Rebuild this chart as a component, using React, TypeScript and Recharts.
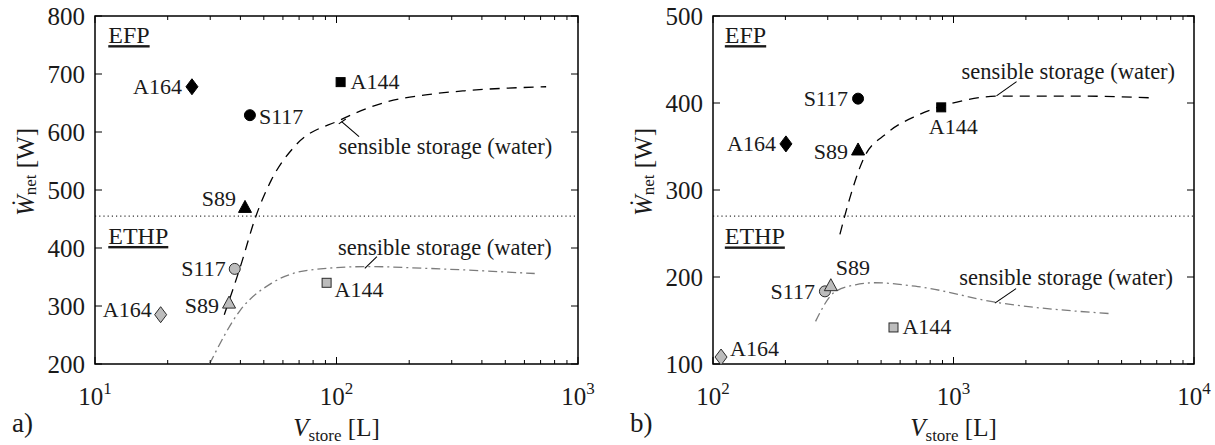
import React from "react";
import {
  ComposedChart,
  Scatter,
  Line,
  XAxis,
  YAxis,
  ReferenceLine,
  ReferenceArea,
  ReferenceDot,
  Label,
} from "recharts";

const FONT = "'Liberation Serif', 'Times New Roman', serif";
const INK = "#1a1a1a";

// systems, same order in every value array below
const systems = ["A164", "A144", "S117", "S89"];
const markerOf: Record<string, string> = {
  A164: "diamond",
  A144: "square",
  S117: "circle",
  S89: "triangle",
};

// a) storage volume [L] and net power [W]
const volA_EFP = [25.2, 104, 43.8, 41.8];
const powA_EFP = [678, 686, 629, 470];
const volA_ETHP = [18.7, 91, 37.9, 35.9];
const powA_ETHP = [285, 340, 364, 305];

// a) sensible storage (water) curves
const waterA_EFP_vol = [34.3, 40, 46.3, 53.7, 67, 104, 162, 234, 339, 738];
const waterA_EFP_pow = [285, 368, 454, 517, 575, 621, 652, 664, 671, 678];
const waterA_ETHP_vol = [29.8, 40, 53.7, 77.6, 135, 234, 662];
const waterA_ETHP_pow = [200, 293, 339, 362, 368, 365, 356];

// b) storage volume [L] and net power [W]
const volB_EFP = [201, 889, 401, 401];
const powB_EFP = [353, 395, 405, 346];
const volB_ETHP = [108, 563, 292, 309];
const powB_ETHP = [108, 142, 183.5, 190];

// b) sensible storage (water) curves
const waterB_EFP_vol = [337, 369, 421, 527, 711, 1033, 1556, 3165, 6560];
const waterB_EFP_pow = [249, 289, 335, 365, 386, 401, 408, 408, 406];
const waterB_ETHP_vol = [267, 318, 391, 471, 711, 1500, 4435];
const waterB_ETHP_pow = [149, 182, 191, 193.4, 189, 171, 158];

// EFP / ETHP separation
const splitA = 455;
const splitB = 270;

// axis ticks
const xTicksA = [10, 20, 30, 40, 50, 60, 70, 80, 90, 100, 200, 300, 400, 500, 600, 700, 800, 900, 1000];
const xTicksB = [100, 200, 300, 400, 500, 600, 700, 800, 900, 1000, 2000, 3000, 4000, 5000, 6000, 7000, 8000, 9000, 10000];
const yTicksA = [200, 300, 400, 500, 600, 700, 800];
const yTicksB = [100, 200, 300, 400, 500];

const noteText = "sensible storage (water)";

type Pt = { x: number; y: number };
const zip = (xs: number[], ys: number[]): Pt[] => xs.map((x, i) => ({ x, y: ys[i] }));
const pts = (vol: number[], pow: number[], group: string) =>
  systems.map((name, i) => ({ x: vol[i], y: pow[i], name, group }));

// label placement next to each marker: [dx, dy, anchor]
type Place = Record<string, [number, number, "start" | "middle" | "end"]>;
const placeA: Place = {
  "EFP A164": [-10, 7, "end"],
  "EFP A144": [10, 7, "start"],
  "EFP S117": [9, 9, "start"],
  "EFP S89": [-9, -1, "end"],
  "ETHP S117": [-9, 7, "end"],
  "ETHP S89": [-10, 10, "end"],
  "ETHP A164": [-9, 2, "end"],
  "ETHP A144": [8, 14, "start"],
};
const placeB: Place = {
  "EFP S117": [-10, 7, "end"],
  "EFP A164": [-10, 7, "end"],
  "EFP S89": [-10, 9, "end"],
  "EFP A144": [12, 27, "middle"],
  "ETHP S117": [-10, 8, "end"],
  "ETHP S89": [5, -11, "start"],
  "ETHP A144": [9, 7, "start"],
  "ETHP A164": [9, -1, "start"],
};

type Seg = [Pt, Pt];
type PanelCfg = {
  tag: string;
  width: number;
  yAxisW: number;
  right: number;
  xDomain: [number, number];
  yDomain: [number, number];
  xTicks: number[];
  yTicks: number[];
  split: number;
  efp: any[];
  ethp: any[];
  efpCurve: Pt[];
  ethpCurve: Pt[];
  place: Place;
  notes: Pt[];
  leaders: Seg[];
  heads: Pt[];
};

const panelA: PanelCfg = {
  tag: "a)",
  width: 610,
  yAxisW: 95,
  right: 32,
  xDomain: [10, 1000],
  yDomain: [200, 800],
  xTicks: xTicksA,
  yTicks: yTicksA,
  split: splitA,
  efp: pts(volA_EFP, powA_EFP, "EFP"),
  ethp: pts(volA_ETHP, powA_ETHP, "ETHP"),
  efpCurve: zip(waterA_EFP_vol, waterA_EFP_pow),
  ethpCurve: zip(waterA_ETHP_vol, waterA_ETHP_pow),
  place: placeA,
  notes: [
    { x: 102, y: 575 },
    { x: 101.5, y: 399.5 },
  ],
  leaders: [
    [{ x: 105, y: 618 }, { x: 124, y: 592 }],
    [{ x: 102.2, y: 614 }, { x: 109.3, y: 622.4 }],
    [{ x: 131, y: 365 }, { x: 147, y: 385 }],
  ],
  heads: [
    { x: 11.35, y: 767 },
    { x: 11.35, y: 420.7 },
  ],
};

const panelB: PanelCfg = {
  tag: "b)",
  width: 610,
  yAxisW: 108,
  right: 21,
  xDomain: [100, 10000],
  yDomain: [100, 500],
  xTicks: xTicksB,
  yTicks: yTicksB,
  split: splitB,
  efp: pts(volB_EFP, powB_EFP, "EFP"),
  ethp: pts(volB_ETHP, powB_ETHP, "ETHP"),
  efpCurve: zip(waterB_EFP_vol, waterB_EFP_pow),
  ethpCurve: zip(waterB_ETHP_vol, waterB_ETHP_pow),
  place: placeB,
  notes: [
    { x: 1079, y: 436 },
    { x: 1057, y: 199 },
  ],
  leaders: [
    [{ x: 1509, y: 408.2 }, { x: 1829, y: 424.6 }],
    [{ x: 1486, y: 170 }, { x: 1820, y: 186.6 }],
  ],
  heads: [
    { x: 112, y: 478 },
    { x: 112, y: 246.6 },
  ],
};

const H = 445;
const TOP = 16;
const XAXIS_H = 81;

function Marker(props: any) {
  const { cx, cy, payload, place } = props;
  if (cx == null || cy == null) return null;
  const kind = markerOf[payload.name];
  const efp = payload.group === "EFP";
  const fill = efp ? "#000" : "#bcbcbc";
  const stroke = efp ? "#000" : "#2a2a2a";
  let mark: React.ReactNode = null;
  if (kind === "diamond") {
    mark = (
      <polygon
        points={`${cx},${cy - 8} ${cx + 6},${cy} ${cx},${cy + 8} ${cx - 6},${cy}`}
        fill={fill}
        stroke={stroke}
      />
    );
  } else if (kind === "square") {
    mark = <rect x={cx - 4.5} y={cy - 4.5} width={9} height={9} fill={fill} stroke={stroke} />;
  } else if (kind === "circle") {
    mark = <circle cx={cx} cy={cy} r={5.5} fill={fill} stroke={stroke} />;
  } else {
    mark = (
      <polygon
        points={`${cx},${cy - 7} ${cx + 6.5},${cy + 5} ${cx - 6.5},${cy + 5}`}
        fill={fill}
        stroke={stroke}
      />
    );
  }
  const p = place[`${payload.group} ${payload.name}`] || [10, 7, "start"];
  return (
    <g>
      {mark}
      <text
        x={cx + p[0]}
        y={cy + p[1]}
        textAnchor={p[2]}
        fontFamily={FONT}
        fontSize={22}
        fill={INK}
      >
        {payload.name}
      </text>
    </g>
  );
}

const makeXTick = (plotH: number) => (props: any) => {
  const { x, y, payload } = props;
  const e = Math.log10(payload.value);
  const major = Math.abs(e - Math.round(e)) < 1e-6;
  const len = major ? 7 : 4;
  return (
    <g>
      <line x1={x} y1={y} x2={x} y2={y - len} stroke="#000" strokeWidth={1} />
      <line x1={x} y1={y - plotH} x2={x} y2={y - plotH + len} stroke="#000" strokeWidth={1} />
      {major && (
        <text x={x} y={y + 41} textAnchor="middle" fontFamily={FONT} fontSize={25} fill={INK}>
          10
          <tspan dy={-11} fontSize={17}>
            {Math.round(e)}
          </tspan>
        </text>
      )}
    </g>
  );
};

const makeYTick = (plotW: number) => (props: any) => {
  const { x, y, payload } = props;
  return (
    <g>
      <line x1={x} y1={y} x2={x + 7} y2={y} stroke="#000" strokeWidth={1} />
      <line x1={x + plotW - 7} y1={y} x2={x + plotW} y2={y} stroke="#000" strokeWidth={1} />
      <text x={x - 10} y={y + 9} textAnchor="end" fontFamily={FONT} fontSize={25} fill={INK}>
        {payload.value}
      </text>
    </g>
  );
};

function Panel({ cfg }: { cfg: PanelCfg }) {
  const plotH = H - TOP - XAXIS_H;
  const plotW = cfg.width - cfg.yAxisW - cfg.right;

  const xTitle = (props: any) => {
    const vb = props.viewBox || {};
    const cx = vb.x + vb.width / 2;
    return (
      <g>
        <text x={cx} y={vb.y + 72} textAnchor="middle" fontFamily={FONT} fontSize={25} fill={INK}>
          <tspan fontStyle="italic">V</tspan>
          <tspan dy={5} fontSize={17}>store</tspan>
          <tspan dy={-5}> [L]</tspan>
        </text>
        <text x={vb.x - 83} y={vb.y + 68} fontFamily={FONT} fontSize={27} fill={INK}>
          {cfg.tag}
        </text>
      </g>
    );
  };

  const yTitle = (props: any) => {
    const vb = props.viewBox || {};
    const cx = vb.x + vb.width - 70;
    const cy = vb.y + vb.height / 2 - 18;
    return (
      <text
        x={cx}
        y={cy}
        transform={`rotate(-90 ${cx} ${cy})`}
        textAnchor="middle"
        dominantBaseline="central"
        fontFamily={FONT}
        fontSize={25}
        fill={INK}
      >
        <tspan fontStyle="italic">Ẇ</tspan>
        <tspan dy={5} fontSize={17}>net</tspan>
        <tspan dy={-5}>{"  [W]"}</tspan>
      </text>
    );
  };

  return (
    <ComposedChart
      width={cfg.width}
      height={H}
      margin={{ top: TOP, right: cfg.right, bottom: 0, left: 0 }}
    >
      <XAxis
        dataKey="x"
        type="number"
        scale="log"
        domain={cfg.xDomain}
        ticks={cfg.xTicks}
        interval={0}
        allowDataOverflow
        height={XAXIS_H}
        tickSize={0}
        tickMargin={0}
        axisLine={false}
        tickLine={false}
        tick={makeXTick(plotH)}
      >
        <Label content={xTitle} />
      </XAxis>
      <YAxis
        dataKey="y"
        type="number"
        domain={cfg.yDomain}
        ticks={cfg.yTicks}
        interval={0}
        allowDataOverflow
        width={cfg.yAxisW}
        tickSize={0}
        tickMargin={0}
        axisLine={false}
        tickLine={false}
        tick={makeYTick(plotW)}
      >
        <Label content={yTitle} />
      </YAxis>

      <ReferenceArea
        x1={cfg.xDomain[0]}
        x2={cfg.xDomain[1]}
        y1={cfg.yDomain[0]}
        y2={cfg.yDomain[1]}
        fill="none"
        fillOpacity={0}
        stroke="#000"
        strokeWidth={1.5}
      />
      <ReferenceLine y={cfg.split} stroke="#000" strokeWidth={1} strokeDasharray="1.2 3" />

      <Line
        data={cfg.efpCurve}
        dataKey="y"
        type="monotone"
        stroke="#000"
        strokeWidth={1.3}
        strokeDasharray="10 7"
        dot={false}
        activeDot={false}
        isAnimationActive={false}
      />
      <Line
        data={cfg.ethpCurve}
        dataKey="y"
        type="monotone"
        stroke="#7c7c7c"
        strokeWidth={1.3}
        strokeDasharray="9 4 2 4"
        dot={false}
        activeDot={false}
        isAnimationActive={false}
      />

      {cfg.leaders.map((s, i) => (
        <ReferenceLine key={`l${i}`} segment={s} stroke="#000" strokeWidth={1.1} />
      ))}
      {cfg.notes.map((n, i) => (
        <ReferenceDot
          key={`n${i}`}
          x={n.x}
          y={n.y}
          r={0}
          shape={(p: any) => (
            <text x={p.cx} y={p.cy + 7} fontFamily={FONT} fontSize={22.5} fill={INK}>
              {noteText}
            </text>
          )}
        />
      ))}
      {cfg.heads.map((n, i) => (
        <ReferenceDot
          key={`h${i}`}
          x={n.x}
          y={n.y}
          r={0}
          shape={(p: any) => (
            <text
              x={p.cx}
              y={p.cy + 8}
              fontFamily={FONT}
              fontSize={24}
              fill={INK}
              style={{ textDecoration: "underline" }}
            >
              {i === 0 ? "EFP" : "ETHP"}
            </text>
          )}
        />
      ))}

      <Scatter
        data={cfg.efp}
        isAnimationActive={false}
        shape={(p: any) => <Marker {...p} place={cfg.place} />}
      />
      <Scatter
        data={cfg.ethp}
        isAnimationActive={false}
        shape={(p: any) => <Marker {...p} place={cfg.place} />}
      />
    </ComposedChart>
  );
}

export default function App() {
  return (
    <div style={{ position: "absolute", left: 0, top: 0, width: 1215, height: 445, background: "#fff" }}>
      <div style={{ position: "absolute", left: 0, top: 0 }}>
        <Panel cfg={panelA} />
      </div>
      <div style={{ position: "absolute", left: 605, top: 0 }}>
        <Panel cfg={panelB} />
      </div>
    </div>
  );
}
